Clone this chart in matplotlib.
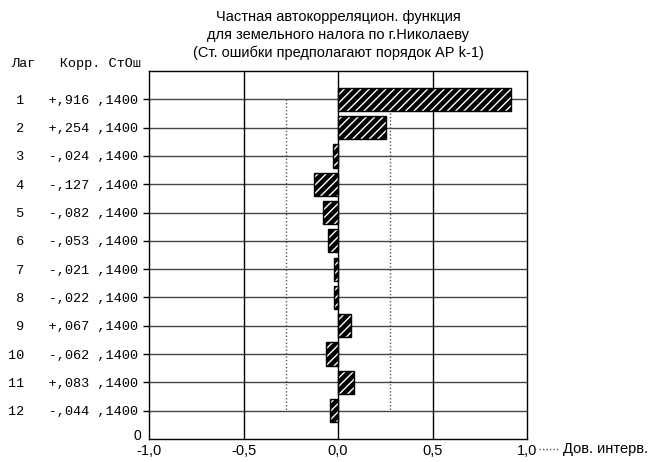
import matplotlib.pyplot as plt

# PACF values
lags = [1, 2, 3, 4, 5, 6, 7, 8, 9, 10, 11, 12]
corr = [0.916, 0.254, -0.024, -0.127, -0.082, -0.053, -0.021, -0.022, 0.067, -0.062, 0.083, -0.044]
corr_txt = ["+,916", "+,254", "-,024", "-,127", "-,082", "-,053", "-,021", "-,022", "+,067", "-,062", "+,083", "-,044"]
se = 0.14
se_txt = ",1400"
conf = 1.96 * se

xticks = [-1.0, -0.5, 0.0, 0.5, 1.0]
xtick_labels = ["-1,0", "-0,5", "0,0", "0,5", "1,0"]

plt.rcParams["font.family"] = ["Liberation Sans", "DejaVu Sans"]
plt.rcParams["hatch.linewidth"] = 1.0

fig = plt.figure(figsize=(6.48, 4.62), dpi=100)
ax = fig.add_axes([149 / 648, 1 - 439 / 462, 378 / 648, 368 / 462])

# grid
for lag in lags:
    ax.axhline(lag, color="#444444", lw=1, zorder=1)
for xv in [-0.5, 0.0, 0.5]:
    ax.axvline(xv, color="black", lw=1, zorder=1)

# confidence limits
ax.plot([-conf, -conf], [lags[0], lags[-1]], ls=(0, (1, 1.5)), color="#555555", lw=1, zorder=2)
ax.plot([conf, conf], [lags[0], lags[-1]], ls=(0, (1, 1.5)), color="#555555", lw=1, zorder=2)

# bars: black with white hatch, then black outline
ax.barh(lags, corr, height=0.82, color="black", edgecolor="white", hatch="////", linewidth=0, zorder=3)
ax.barh(lags, corr, height=0.82, fill=False, edgecolor="black", linewidth=1, zorder=4)

ax.set_xlim(-1, 1)
ax.set_ylim(13, 0)
ax.set_xticks(xticks)
ax.set_xticklabels(xtick_labels, fontsize=10.5)
ax.tick_params(axis="x", length=0, pad=3.5)

ax.set_yticks(lags)
rows = ["%2d   %s %s" % (l, c, se_txt) for l, c in zip(lags, corr_txt)]
ax.set_yticklabels(rows, fontsize=9.7, family="Liberation Mono")
ax.tick_params(axis="y", length=4, width=1, pad=4)

for s in ax.spines.values():
    s.set_linewidth(1)

fig.text(141 / 648, 1 - 436 / 462, "0", ha="right", va="center", fontsize=10)
fig.text(141 / 648, 1 - 64 / 462, "Лаг   Корр. СтОш", ha="right", va="center",
         fontsize=9.7, family="Liberation Mono")

# title
titles = ["Частная автокорреляцион. функция",
          "для земельного налога по г.Николаеву",
          "(Ст. ошибки предполагают порядок АР k-1)"]
for t, yp in zip(titles, [17, 35, 53]):
    fig.text(338 / 648, 1 - yp / 462, t, ha="center", va="center", fontsize=10.5)

# legend
fig.add_artist(plt.Line2D([539 / 648, 559 / 648], [1 - 449 / 462, 1 - 449 / 462],
                          ls=(0, (1, 1.5)), color="#555555", lw=1))
fig.text(563 / 648, 1 - 449 / 462, "Дов. интерв.", ha="left", va="center", fontsize=10.5)

fig.savefig("out.png", dpi=100)
